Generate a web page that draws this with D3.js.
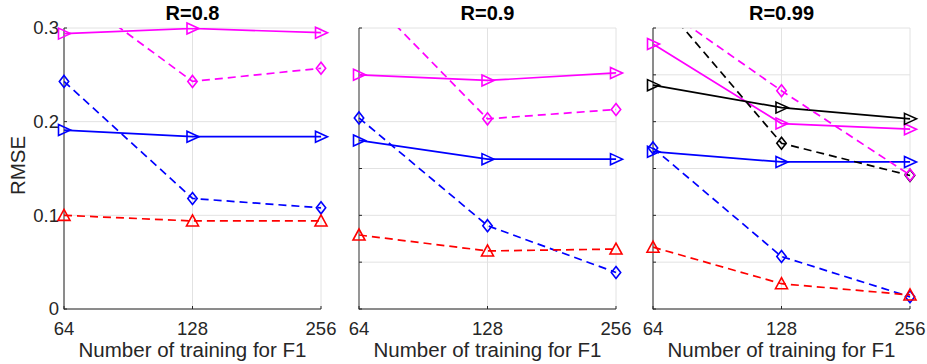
<!DOCTYPE html>
<html>
<head>
<meta charset="utf-8">
<script src="https://cdn.jsdelivr.net/npm/d3@7"></script>
<style>
  body { margin: 0; background: #fff; }
  text { font-family: "Liberation Sans", Arial, Helvetica, sans-serif; fill: #262626; }
</style>
</head>
<body>
<div id="chart"></div>
<script>
// x values (number of training for F1)
const trainSizes = [64, 128, 256];
const panelTitles = ['R=0.8', 'R=0.9', 'R=0.99'];
const yTickLabels = ['0', '0.1', '0.2', '0.3'];
const yTicksMajor = [0, 0.1, 0.2, 0.3];
const yTicksFine = [0, 0.05, 0.1, 0.15, 0.2, 0.25, 0.3];

// RMSE values, one row per panel (R=0.8, R=0.9, R=0.99)
const redDashed = [[0.100, 0.094, 0.094], [0.079, 0.062, 0.064], [0.066, 0.027, 0.015]];
const blueDashed = [[0.243, 0.118, 0.108], [0.204, 0.089, 0.039], [0.172, 0.056, 0.013]];
const blueSolid = [[0.191, 0.184, 0.184], [0.180, 0.160, 0.160], [0.168, 0.157, 0.157]];
const magentaDashed = [[0.344, 0.243, 0.257], [0.343, 0.203, 0.213], [0.329, 0.233, 0.143]];
const magentaSolid = [[0.294, 0.2995, 0.295], [0.250, 0.244, 0.252], [0.283, 0.198, 0.192]];
const blackDashed = [null, null, [0.338, 0.177, 0.1425]];
const blackSolid = [null, null, [0.239, 0.215, 0.203]];

const W = 927, H = 364;
const panelRanges = [[64, 321], [359, 616], [653, 910]];
const yTop = 28, yBottom = 309;

const markers = {
  tri: 'M-5.5,-5.5L6.5,0L-5.5,5.5Z',
  up: 'M0,-6L6,5L-6,5Z',
  dia: 'M0,-6L4.7,0L0,6L-4.7,0Z'
};

const series = [
  { data: blueDashed, color: '#0000ff', dash: '8,5', marker: 'dia' },
  { data: redDashed, color: '#ff0000', dash: '8,5', marker: 'up' },
  { data: blueSolid, color: '#0000ff', dash: null, marker: 'tri' },
  { data: magentaSolid, color: '#ff00ff', dash: null, marker: 'tri' },
  { data: blackDashed, color: '#000000', dash: '8,5', marker: 'dia' },
  { data: blackSolid, color: '#000000', dash: null, marker: 'tri' },
  { data: magentaDashed, color: '#ff00ff', dash: '8,5', marker: 'dia' }
];

const svg = d3.select('#chart').append('svg')
  .attr('width', W).attr('height', H);

const y = d3.scaleLinear().domain([0, 0.3]).range([yBottom, yTop]);

panelTitles.forEach((title, p) => {
  const x = d3.scaleLog().base(2).domain([64, 256]).range(panelRanges[p]);
  const g = svg.append('g');
  const ticks = p === 0 ? yTicksMajor : yTicksFine;

  // grid
  g.selectAll('line.hgrid').data(ticks).enter().append('line')
    .attr('x1', x(64)).attr('x2', x(256))
    .attr('y1', d => y(d)).attr('y2', d => y(d))
    .style('stroke', '#e2e2e2').style('stroke-width', 1);
  g.selectAll('line.vgrid').data(trainSizes).enter().append('line')
    .attr('x1', d => x(d)).attr('x2', d => x(d))
    .attr('y1', yTop).attr('y2', yBottom)
    .style('stroke', '#e2e2e2').style('stroke-width', 1);

  // axes
  const axisColor = p === 1 ? '#808080' : '#262626';
  g.append('line').attr('x1', x(64)).attr('x2', x(64)).attr('y1', yTop).attr('y2', yBottom + 0.5)
    .style('stroke', axisColor).style('stroke-width', p === 1 ? 1.6 : 1);
  g.append('line').attr('x1', x(64)).attr('x2', x(256)).attr('y1', yBottom).attr('y2', yBottom)
    .style('stroke', '#262626').style('stroke-width', 1);
  g.selectAll('line.ytick').data(ticks).enter().append('line')
    .attr('x1', x(64)).attr('x2', x(64) + 3)
    .attr('y1', d => y(d)).attr('y2', d => y(d))
    .style('stroke', '#262626');
  g.selectAll('line.xtick').data(trainSizes).enter().append('line')
    .attr('x1', d => x(d)).attr('x2', d => x(d))
    .attr('y1', yBottom).attr('y2', yBottom - 3)
    .style('stroke', '#262626');

  g.selectAll('text.xlab').data(trainSizes).enter().append('text')
    .attr('x', d => x(d)).attr('y', 335)
    .attr('text-anchor', 'middle').style('font-size', '18.5px')
    .text(d => d);
  g.append('text')
    .attr('x', (x(64) + x(256)) / 2).attr('y', 357)
    .attr('text-anchor', 'middle').style('font-size', '20.5px')
    .text('Number of training for F1');
  g.append('text')
    .attr('x', (x(64) + x(256)) / 2).attr('y', 20)
    .attr('text-anchor', 'middle').style('font-size', '20px').style('font-weight', 'bold')
    .style('fill', '#000')
    .text(title);

  if (p === 0) {
    g.selectAll('text.ylab').data(yTicksMajor).enter().append('text')
      .attr('x', x(64) - 5).attr('y', d => y(d)).attr('dy', '0.35em')
      .attr('text-anchor', 'end').style('font-size', '18.5px')
      .text((d, i) => yTickLabels[i]);
    g.append('text')
      .attr('transform', 'translate(25,' + ((yTop + yBottom) / 2 - 3) + ') rotate(-90)')
      .attr('text-anchor', 'middle').style('font-size', '20.5px')
      .text('RMSE');
  }

  // clip for lines
  svg.append('clipPath').attr('id', 'clip' + p).append('rect')
    .attr('x', x(64) - 10).attr('y', yTop).attr('width', x(256) - x(64) + 20).attr('height', yBottom - yTop + 10);

  const line = d3.line().x((d, i) => x(trainSizes[i])).y(d => y(d));

  series.forEach(s => {
    const vals = s.data[p];
    if (!vals) return;
    g.append('path').attr('d', line(vals))
      .attr('clip-path', 'url(#clip' + p + ')')
      .style('fill', 'none').style('stroke', s.color).style('stroke-width', 1.7)
      .style('stroke-dasharray', s.dash);
    g.selectAll(null).data(vals.map((v, i) => [trainSizes[i], v]).filter(d => d[1] <= 0.302))
      .enter().append('path')
      .attr('transform', d => 'translate(' + x(d[0]) + ',' + y(d[1]) + ')')
      .attr('d', markers[s.marker])
      .style('fill', 'none').style('stroke', s.color).style('stroke-width', 1.6);
  });
});
</script>
</body>
</html>
